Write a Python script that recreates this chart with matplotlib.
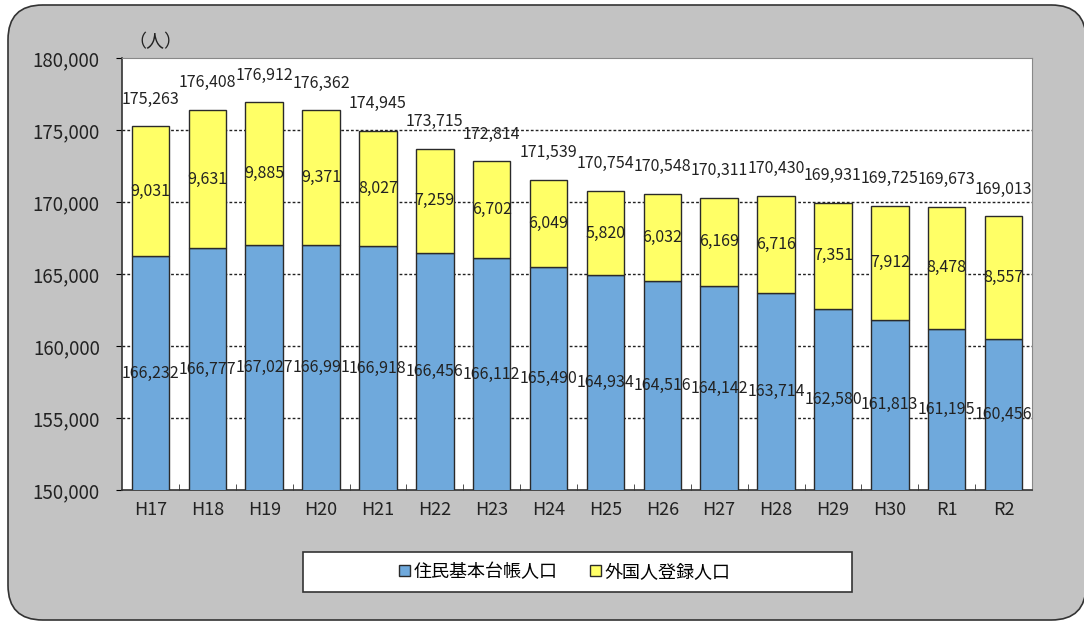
import matplotlib.pyplot as plt
from matplotlib.patches import FancyBboxPatch, Rectangle
import numpy as np

plt.rcParams['font.family'] = ['Noto Sans CJK JP', 'DejaVu Sans']

# data
years = ['H17', 'H18', 'H19', 'H20', 'H21', 'H22', 'H23', 'H24',
         'H25', 'H26', 'H27', 'H28', 'H29', 'H30', 'R1', 'R2']
residents = [166232, 166777, 167027, 166991, 166918, 166456, 166112, 165490,
             164934, 164516, 164142, 163714, 162580, 161813, 161195, 160456]
foreigners = [9031, 9631, 9885, 9371, 8027, 7259, 6702, 6049,
              5820, 6032, 6169, 6716, 7351, 7912, 8478, 8557]
totals = [175263, 176408, 176912, 176362, 174945, 173715, 172814, 171539,
          170754, 170548, 170311, 170430, 169931, 169725, 169673, 169013]
series_names = ['住民基本台帳人口', '外国人登録人口']

W, H = 1084, 623
fig = plt.figure(figsize=(W / 100, H / 100), dpi=100)
fig.patch.set_facecolor('white')

# gray rounded panel behind everything
panel = FancyBboxPatch((8 / W, 3 / H), (W - 6) / W, (H - 8) / H,
                       boxstyle='round,pad=0,rounding_size=0.032',
                       transform=fig.transFigure, facecolor='#c3c3c3',
                       edgecolor='#333333', linewidth=1.2, zorder=-10,
                       mutation_aspect=W / H)
fig.patches.append(panel)

ax = fig.add_axes([122 / W, 1 - 490 / H, 910 / W, 432 / H])
ax.set_zorder(1)
ax.set_facecolor('white')

x = np.arange(len(years))
ymin = 150000
blue = '#6fa9dc'
yellow = '#ffff66'
bw = 0.66

ax.bar(x, residents, width=bw, color=blue, edgecolor='#2a2a2a', linewidth=1, zorder=3)
ax.bar(x, foreigners, bottom=residents, width=bw, color=yellow,
       edgecolor='#2a2a2a', linewidth=1, zorder=3)

ax.set_ylim(ymin, 180000)
ax.set_xlim(-0.5, len(years) - 0.5)
ax.set_yticks(range(150000, 180001, 5000))
ax.set_yticklabels([f'{v:,}' for v in range(150000, 180001, 5000)],
                   fontsize=13.5, color='#222222')
ax.set_xticks(x)
ax.set_xticklabels(years, fontsize=13, color='#222222')
ax.set_xticks(np.arange(0.5, len(years) - 0.5, 1), minor=True)
ax.tick_params(axis='x', which='major', length=0, pad=8)
ax.tick_params(axis='x', which='minor', length=4, direction='in', color='#333333')
ax.tick_params(axis='y', length=4, direction='out', pad=12)

for v in range(155000, 180000, 5000):
    ax.axhline(v, color='#222222', linestyle=(0, (2, 1.5)), linewidth=1.0, zorder=2)

for s in ['top', 'right']:
    ax.spines[s].set_color('#888888')
    ax.spines[s].set_linewidth(0.8)
for s in ['left', 'bottom']:
    ax.spines[s].set_color('#333333')
    ax.spines[s].set_linewidth(1.2)

# value labels
for i in range(len(years)):
    ax.text(x[i], (ymin + residents[i]) / 2, f'{residents[i]:,}', ha='center',
            va='center', fontsize=11.5, color='#222222', zorder=4)
    ax.text(x[i], residents[i] + foreigners[i] / 2, f'{foreigners[i]:,}',
            ha='center', va='center', fontsize=11.5, color='#222222', zorder=4)
    ax.text(x[i], totals[i] + 1300, f'{totals[i]:,}', ha='center', va='bottom',
            fontsize=11.5, color='#222222', zorder=4)

fig.text(128 / W, 1 - 42 / H, '（人）', fontsize=13, color='#222222',
         ha='left', va='center')

# legend box
fig.patches.append(Rectangle((303 / W, 1 - 592 / H), 549 / W, 40 / H,
                             transform=fig.transFigure, facecolor='white',
                             edgecolor='#333333', linewidth=1.2, zorder=-5))
handles = [Rectangle((0, 0), 1, 1, facecolor=blue, edgecolor='#2a2a2a'),
           Rectangle((0, 0), 1, 1, facecolor=yellow, edgecolor='#2a2a2a')]
fig.legend(handles, series_names, loc='center', bbox_to_anchor=(565 / W, 1 - 572 / H),
           ncol=2, frameon=False, fontsize=13, handlelength=0.6, handleheight=0.6,
           handletextpad=0.2, columnspacing=1.8)

fig.savefig('out.png', dpi=100)
